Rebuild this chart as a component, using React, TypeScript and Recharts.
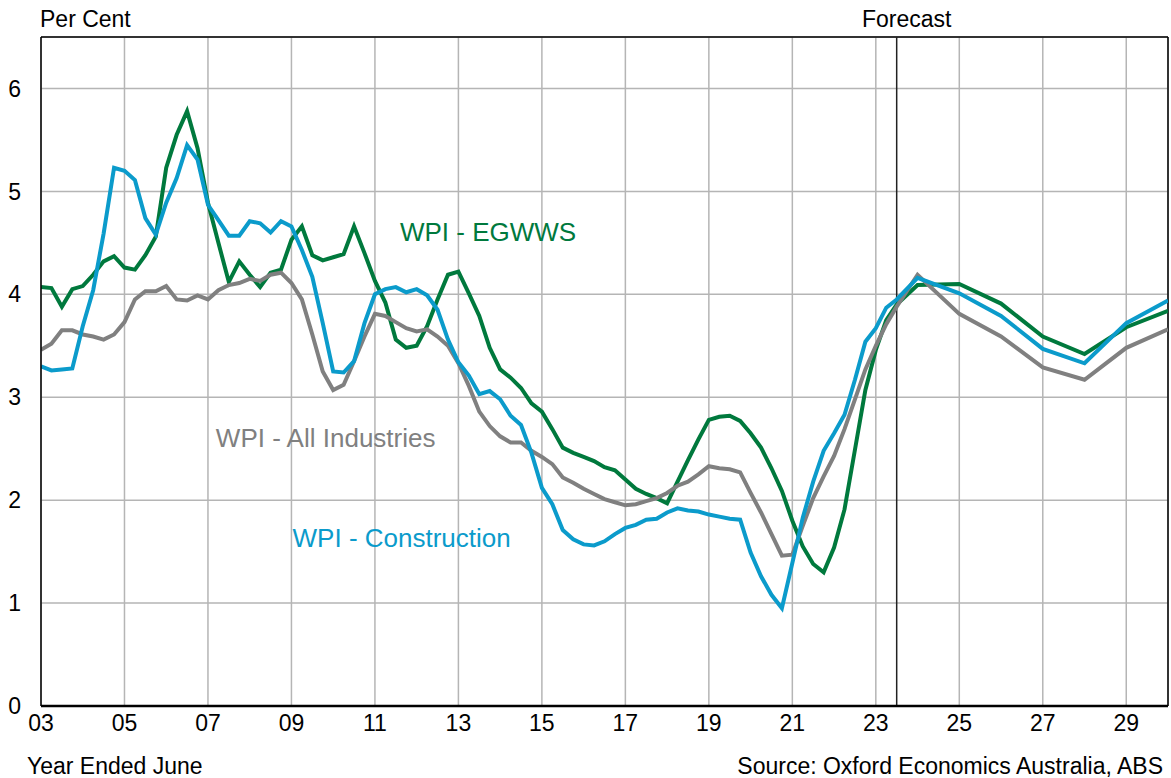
import { LineChart, Line, XAxis, YAxis, CartesianGrid, ReferenceLine, ReferenceDot } from 'recharts'

const FONT = '"Liberation Sans", Arial, sans-serif'
const GREEN = '#00793d'
const GREY = '#808080'
const BLUE = '#0b9bcb'

// quarterly history (year ended June), then annual forecast points
const periods = [
  2003, 2003.25, 2003.5, 2003.75,
  2004, 2004.25, 2004.5, 2004.75,
  2005, 2005.25, 2005.5, 2005.75,
  2006, 2006.25, 2006.5, 2006.75,
  2007, 2007.25, 2007.5, 2007.75,
  2008, 2008.25, 2008.5, 2008.75,
  2009, 2009.25, 2009.5, 2009.75,
  2010, 2010.25, 2010.5, 2010.75,
  2011, 2011.25, 2011.5, 2011.75,
  2012, 2012.25, 2012.5, 2012.75,
  2013, 2013.25, 2013.5, 2013.75,
  2014, 2014.25, 2014.5, 2014.75,
  2015, 2015.25, 2015.5, 2015.75,
  2016, 2016.25, 2016.5, 2016.75,
  2017, 2017.25, 2017.5, 2017.75,
  2018, 2018.25, 2018.5, 2018.75,
  2019, 2019.25, 2019.5, 2019.75,
  2020, 2020.25, 2020.5, 2020.75,
  2021, 2021.25, 2021.5, 2021.75,
  2022, 2022.25, 2022.5, 2022.75,
  2023, 2023.25, 2023.5,
  2024, 2025, 2026, 2027, 2028, 2029, 2030,
]

const egwws = [
  4.07, 4.06, 3.88, 4.05,
  4.08, 4.19, 4.32, 4.37,
  4.26, 4.24, 4.38, 4.56,
  5.23, 5.55, 5.78, 5.42,
  4.89, 4.5, 4.12, 4.32,
  4.19, 4.07, 4.21, 4.24,
  4.53, 4.66, 4.38, 4.33,
  4.36, 4.39, 4.66, 4.4,
  4.13, 3.92, 3.56, 3.48,
  3.5, 3.69, 3.95, 4.19,
  4.22, 4.01, 3.79, 3.48,
  3.27, 3.19, 3.09, 2.94,
  2.86, 2.69, 2.51, 2.46,
  2.42, 2.38, 2.32, 2.29,
  2.2, 2.11, 2.06, 2.02,
  1.97, 2.18, 2.39, 2.59,
  2.78, 2.81, 2.82, 2.77,
  2.65, 2.51, 2.31, 2.09,
  1.8, 1.55, 1.38, 1.3,
  1.54, 1.91, 2.49, 3.07,
  3.46, 3.75, 3.9,
  4.09, 4.1, 3.91, 3.59, 3.42, 3.68, 3.84,
]

const allIndustries = [
  3.46, 3.52, 3.65, 3.65,
  3.61, 3.59, 3.56, 3.61,
  3.73, 3.95, 4.03, 4.03,
  4.08, 3.95, 3.94, 3.99,
  3.95, 4.04, 4.09, 4.11,
  4.15, 4.13, 4.19, 4.21,
  4.11, 3.95, 3.61, 3.25,
  3.07, 3.12, 3.35, 3.59,
  3.81, 3.79, 3.73, 3.67,
  3.64, 3.66, 3.59, 3.5,
  3.33, 3.11, 2.86, 2.72,
  2.62, 2.56, 2.56, 2.48,
  2.42, 2.35, 2.22, 2.17,
  2.11, 2.06, 2.01, 1.98,
  1.95, 1.96, 1.99, 2.02,
  2.07, 2.14, 2.18, 2.25,
  2.33, 2.31, 2.3, 2.27,
  2.07, 1.88, 1.67, 1.46,
  1.47, 1.75, 2.02, 2.23,
  2.43, 2.69, 2.98, 3.27,
  3.5, 3.71, 3.88,
  4.19, 3.81, 3.59, 3.29, 3.17, 3.48, 3.66,
]

const construction = [
  3.3, 3.26, 3.27, 3.28,
  3.69, 4.04, 4.59, 5.23,
  5.2, 5.11, 4.74, 4.58,
  4.89, 5.13, 5.45, 5.31,
  4.87, 4.72, 4.57, 4.57,
  4.71, 4.69, 4.6, 4.71,
  4.66, 4.43, 4.17, 3.72,
  3.25, 3.24, 3.35, 3.72,
  4.0, 4.05, 4.07, 4.02,
  4.05, 3.99, 3.85, 3.56,
  3.34, 3.21, 3.03, 3.06,
  2.98, 2.82, 2.73, 2.46,
  2.12, 1.96, 1.71, 1.62,
  1.57, 1.56, 1.6, 1.67,
  1.73, 1.76, 1.81, 1.82,
  1.88, 1.92, 1.9, 1.89,
  1.86, 1.84, 1.82, 1.81,
  1.49, 1.26, 1.08, 0.95,
  1.39, 1.83, 2.18, 2.48,
  2.65, 2.83, 3.17, 3.54,
  3.67, 3.87, 3.95,
  4.16, 4.01, 3.79, 3.47, 3.33, 3.72, 3.94,
]

const xTicks = [2003, 2005, 2007, 2009, 2011, 2013, 2015, 2017, 2019, 2021, 2023, 2025, 2027, 2029]
const yTicks = [0, 1, 2, 3, 4, 5, 6]
const forecastStart = 2023.5

const rows = periods.map((x, i) => ({
  x,
  egwws: egwws[i],
  all: allIndustries[i],
  cons: construction[i],
}))

const textStyle: React.CSSProperties = {
  position: 'absolute',
  fontFamily: FONT,
  fontSize: 23,
  lineHeight: '23px',
  color: '#000',
  whiteSpace: 'nowrap',
}

function seriesLabel(x: number, y: number, value: string, fill: string) {
  return (
    <ReferenceDot
      x={x}
      y={y}
      r={0}
      ifOverflow="visible"
      label={{ value, position: 'center', fill, fontSize: 26, fontFamily: FONT }}
    />
  )
}

export default function App() {
  return (
    <div style={{ position: 'absolute', left: 0, top: 0, width: 1171, height: 778, background: '#fff' }}>
      <LineChart width={1171} height={778} data={rows} margin={{ top: 37, right: 3, left: 0, bottom: 0 }}>
        <CartesianGrid stroke="#b5b5b5" strokeWidth={1.5} />
        <XAxis
          type="number"
          dataKey="x"
          domain={[2003, 2030]}
          ticks={xTicks}
          tickFormatter={(v: number) => String(v % 100).padStart(2, '0')}
          height={72}
          tickLine={false}
          axisLine={{ stroke: '#000', strokeWidth: 2.5 }}
          tick={{ fill: '#000', fontSize: 23, fontFamily: FONT }}
          tickMargin={3}
          interval={0}
          allowDataOverflow
        />
        <YAxis
          type="number"
          domain={[0, 6.5]}
          ticks={yTicks}
          width={41}
          tickLine={false}
          axisLine={{ stroke: '#000', strokeWidth: 1.5 }}
          tick={{ fill: '#000', fontSize: 23, fontFamily: FONT }}
          tickMargin={14}
          interval={0}
          allowDataOverflow
        />
        <ReferenceLine y={6.5} stroke="#000" strokeWidth={1.5} />
        <ReferenceLine x={2030} stroke="#000" strokeWidth={1.5} />
        <ReferenceLine x={forecastStart} stroke="#222" strokeWidth={1.5} />
        <Line type="linear" dataKey="egwws" stroke={GREEN} strokeWidth={4} dot={false} isAnimationActive={false} />
        <Line type="linear" dataKey="all" stroke={GREY} strokeWidth={4} dot={false} isAnimationActive={false} />
        <Line type="linear" dataKey="cons" stroke={BLUE} strokeWidth={4} dot={false} isAnimationActive={false} />
        {seriesLabel(2013.71, 4.61, 'WPI - EGWWS', GREEN)}
        {seriesLabel(2009.82, 2.61, 'WPI - All Industries', GREY)}
        {seriesLabel(2011.64, 1.63, 'WPI - Construction', BLUE)}
      </LineChart>
      <div style={{ ...textStyle, left: 40, top: 8 }}>Per Cent</div>
      <div style={{ ...textStyle, left: 862, top: 8 }}>Forecast</div>
      <div style={{ ...textStyle, left: 27, top: 755 }}>Year Ended June</div>
      <div style={{ ...textStyle, right: 8, top: 755 }}>Source: Oxford Economics Australia, ABS</div>
    </div>
  )
}
